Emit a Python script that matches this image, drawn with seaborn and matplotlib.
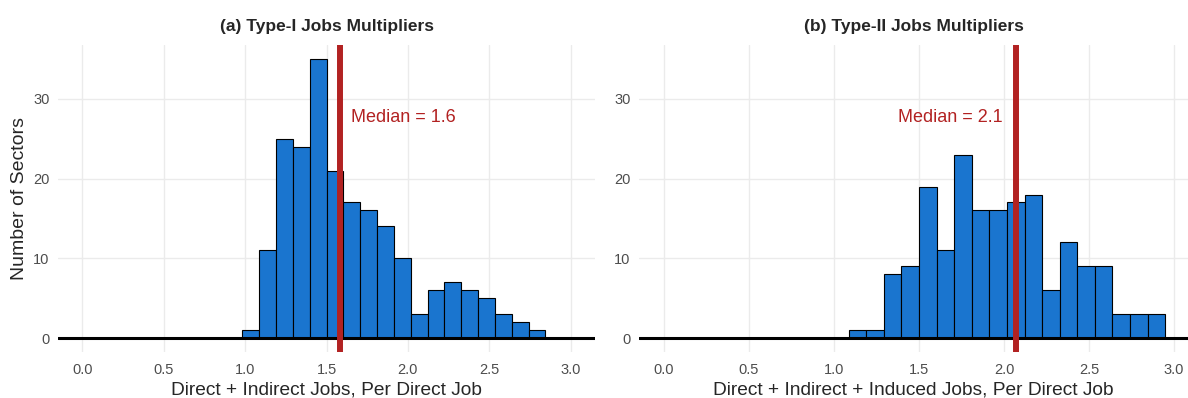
import numpy as np
import pandas as pd
import matplotlib
matplotlib.use("Agg")
import matplotlib.pyplot as plt
import seaborn as sns

# Sector counts per multiplier bin (30 bins across 0-3, width 3/29)
BIN_WIDTH = 3.0 / 29
type1_first_center = 10 * BIN_WIDTH
type1_counts = [1, 11, 25, 24, 35, 21, 17, 16, 14, 10, 3, 6, 7, 6, 5, 3, 2, 1]
type2_first_center = 11 * BIN_WIDTH
type2_counts = [1, 1, 8, 9, 19, 11, 23, 16, 16, 17, 18, 6, 12, 9, 9, 3, 3, 3]

type1_median = 1.58
type2_median = 2.07

titles = ["(a) Type-I Jobs Multipliers", "(b) Type-II Jobs Multipliers"]
xlabels = ["Direct + Indirect Jobs, Per Direct Job",
           "Direct + Indirect + Induced Jobs, Per Direct Job"]
xticks = [0.0, 0.5, 1.0, 1.5, 2.0, 2.5, 3.0]
yticks = [0, 10, 20, 30]

sns.set_theme(style="white")
plt.rcParams["font.family"] = ["Liberation Sans", "DejaVu Sans"]

BAR_COLOR = "#1A75CF"
RED = "#B22222"
GRID = "#EBEBEB"
TICK_COLOR = "#4D4D4D"

W, H = 1188, 398
fig = plt.figure(figsize=(W / 100, H / 100), dpi=100)


def px_axes(left, right, top, bottom):
    return fig.add_axes([left / W, (H - bottom) / H, (right - left) / W, (bottom - top) / H])


ax_a = px_axes(58, 595, 45, 352)
ax_b = px_axes(639, 1188, 45, 352)

panels = [
    (ax_a, type1_first_center, type1_counts, type1_median, (-0.15, 3.15), "left"),
    (ax_b, type2_first_center, type2_counts, type2_median, (-0.147, 3.082), "right"),
]

for i, (ax, first_center, counts, med, xlim, side) in enumerate(panels):
    n = len(counts)
    centers = first_center + BIN_WIDTH * np.arange(n)
    lo = centers[0] - BIN_WIDTH / 2
    hi = centers[-1] + BIN_WIDTH / 2
    df = pd.DataFrame({"multiplier": centers, "sectors": np.asarray(counts, float)})
    sns.histplot(data=df, x="multiplier", weights="sectors", bins=n,
                 binrange=(lo, hi), ax=ax,
                 color=BAR_COLOR, edgecolor="black", linewidth=0.8, alpha=1.0,
                 zorder=2)
    ax.axhline(0, color="black", lw=2.2, zorder=3)
    ax.axvline(med, color=RED, lw=4.3, zorder=4)
    label = f"Median = {med:.1f}"
    if side == "left":
        ax.text(med + 0.07, 27.6, label, color=RED, fontsize=13, ha="left", va="center")
    else:
        ax.text(med - 0.08, 27.6, label, color=RED, fontsize=13, ha="right", va="center")

    ax.set_xlim(*xlim)
    ax.set_ylim(-1.75, 36.75)
    ax.set_xticks(xticks)
    ax.set_xticklabels([f"{t:.1f}" for t in xticks])
    ax.set_yticks(yticks)
    ax.grid(True, color=GRID, lw=1.0, zorder=0)
    ax.set_axisbelow(True)
    for s in ax.spines.values():
        s.set_visible(False)
    ax.tick_params(axis="both", length=0, labelsize=10.5, labelcolor=TICK_COLOR)
    ax.tick_params(axis="x", pad=8)
    ax.tick_params(axis="y", pad=6)
    ax.set_title(titles[i], fontsize=12.5, fontweight="bold", pad=10)
    ax.set_xlabel(xlabels[i], fontsize=13.8, labelpad=3)
    if i == 0:
        ax.set_ylabel("Number of Sectors", fontsize=14, labelpad=4)
    else:
        ax.set_ylabel("")

fig.savefig("out.png", dpi=100, facecolor="white")
